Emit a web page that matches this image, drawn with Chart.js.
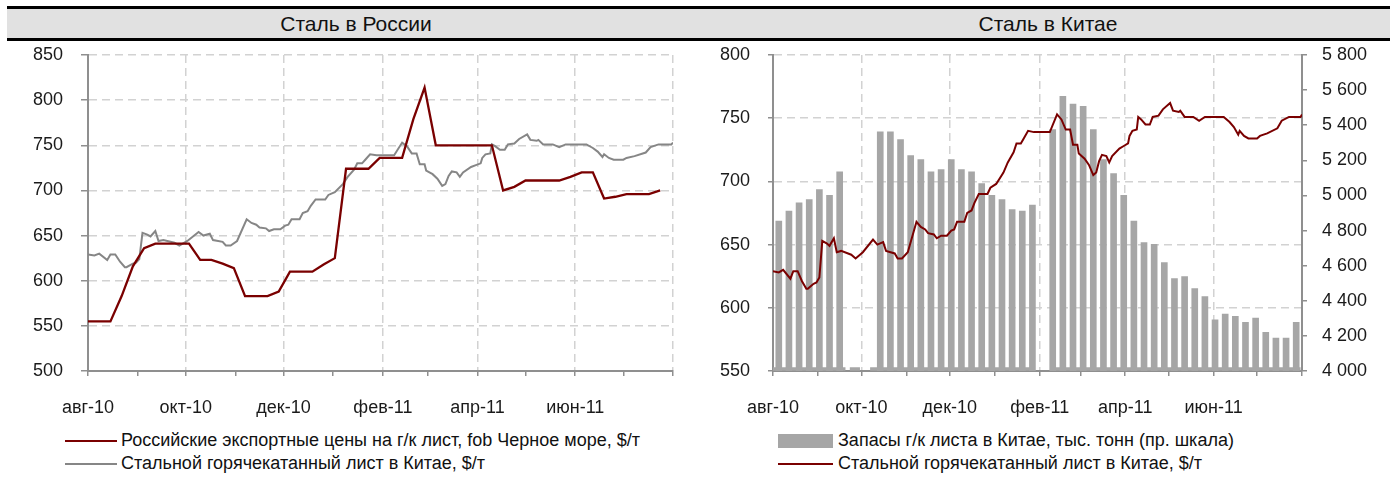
<!DOCTYPE html>
<html>
<head>
<meta charset="utf-8">
<script src="https://cdn.jsdelivr.net/npm/chart.js@4.4.1/dist/chart.umd.min.js"></script>
<style>
  html, body { margin: 0; padding: 0; background: #fff; }
  body { width: 1394px; height: 477px; overflow: hidden; position: relative;
         font-family: 'Liberation Sans', Arial, sans-serif; color: #111; }
  #band { position: absolute; left: 7px; top: 6px; width: 1383px; height: 29px;
          background: #e1e1e1; border-top: 3px solid #000; border-bottom: 3px solid #000; }
  .title { position: absolute; top: 0; height: 29px; line-height: 29px; font-size: 21px;
           transform: translateX(-50%); white-space: nowrap; }
  .wrap { position: absolute; top: 41px; width: 697px; height: 380px; }
  .legend { position: absolute; top: 429px; font-size: 18px; white-space: nowrap; }
  .row { display: flex; align-items: center; height: 23px; }
  .sample { display: inline-block; box-sizing: border-box; }
</style>
</head>
<body>
<div id="band">
  <div class="title" style="left:349px">Сталь в России</div>
  <div class="title" style="left:1041px">Сталь в Китае</div>
</div>
<div class="wrap" style="left:0px"><canvas id="left" width="697" height="380"></canvas></div>
<div class="wrap" style="left:697px"><canvas id="right" width="697" height="380"></canvas></div>
<script>
// ---------- DATA (x = days since 1 Aug 2010) ----------
const monthTickDays   = [0, 31, 61, 92, 122, 153, 184, 212, 243, 273, 304, 334, 365];
const monthTickLabels = ['авг-10', '', 'окт-10', '', 'дек-10', '', 'фев-11', '', 'апр-11', '', 'июн-11', '', ''];

const russiaLabel = 'Российские экспортные цены на г/к лист, fob Черное море, $/т';
const russiaDay = [0, 7, 14, 21, 28, 35, 42, 49, 56, 63, 70, 77, 84, 91, 98, 105, 112, 119, 126, 133,
  140, 147, 154, 161, 168, 175, 182, 189, 196, 203, 210, 217, 224, 231, 238, 245, 252, 259, 266, 273,
  280, 287, 294, 301, 308, 315, 322, 329, 336, 343, 350, 357];
const russiaPrice = [555, 555, 555, 583, 616, 636, 641, 641, 641, 641, 623, 623, 619, 614, 583, 583, 583, 588, 610, 610,
  610, 618, 625, 724, 724, 724, 736, 736, 736, 779, 814, 750, 750, 750, 750, 750, 750, 700, 704, 711,
  711, 711, 711, 715, 720, 720, 691, 693, 696, 696, 696, 700];

const chinaHrLabel = 'Стальной горячекатанный лист в Китае, $/т';
const chinaHrDay = [0, 4, 7, 12, 14, 17, 20, 23, 24, 28, 30, 32, 34, 37, 39, 42, 44, 47, 54, 57,
  62, 69, 72, 76, 78, 84, 86, 89, 93, 99, 102, 105, 107, 111, 113, 116, 120, 123, 125, 127,
  132, 134, 137, 139, 142, 145, 148, 150, 154, 159, 162, 166, 168, 171, 173, 176, 180, 191, 196, 199,
  202, 205, 207, 210, 211, 215, 218, 221, 223, 225, 227, 230, 232, 234, 239, 242, 245, 246, 248, 251,
  252, 254, 257, 260, 262, 266, 269, 274, 276, 280, 281, 284, 290, 294, 298, 311, 315, 318, 321, 322,
  325, 328, 334, 336, 341, 348, 351, 356, 364, 365];
const chinaHrPrice = [629, 628, 630, 623, 629, 629, 621, 615, 615, 619, 620, 624, 653, 651, 649, 655, 644, 645, 642, 639,
  644, 654, 650, 652, 645, 643, 639, 639, 644, 668, 664, 662, 659, 658, 655, 657, 657, 661, 662, 668,
  668, 675, 677, 683, 690, 690, 690, 695, 698, 707, 715, 723, 730, 730, 734, 740, 739, 739, 753, 749,
  741, 741, 729, 729, 722, 718, 713, 705, 707, 716, 721, 720, 715, 720, 726, 728, 730, 736, 740, 741,
  751, 749, 745, 745, 751, 752, 757, 762, 756, 755, 756, 751, 751, 748, 751, 751, 747, 743, 737, 740,
  736, 734, 734, 736, 738, 742, 748, 751, 751, 753];

const stockLabel = 'Запасы г/к листа в Китае, тыс. тонн (пр. шкала)';
const stockDay = [4, 11, 18, 25, 32, 39, 46, 53, 60, 67, 74, 81, 88, 95, 102, 109, 116, 123, 130, 137,
  144, 151, 158, 165, 172, 179, 186, 193, 200, 207, 214, 221, 228, 235, 242, 249, 256, 263, 270, 277,
  284, 291, 298, 305, 312, 319, 326, 333, 340, 347, 354, 361];
const stockValue = [4854, 4911, 4958, 4977, 5034, 5001, 5134, null, null, null, 5362, 5362, 5318, 5227, 5204, 5134, 5147, 5204, 5147, 5134,
  5068, 5001, 4977, 4920, 4911, 4945, null, 5375, 5564, 5521, 5507, 5375, 5204, 5125, 5001, 4854, 4731, 4721, 4617, 4526,
  4538, 4470, 4424, 4292, 4324, 4311, 4277, 4301, 4220, 4187, 4187, 4277];
// thin base strip of the stock series along the bottom of the right chart
const stockBaseDay   = [0, 50, 51, 53, 60, 61, 67, 179, 180, 193, 364];
const stockBaseValue = [4011, 4011, null, 4011, 4011, null, 4011, 4011, null, 4011, 4011];

const leftYTicks  = { min: 500, max: 850, step: 50 };
const rightYTicks = { min: 550, max: 800, step: 50 };
const rightY2Ticks = { min: 4000, max: 5800, step: 200 };

// ---------- STYLE ----------
const FONT = "'Liberation Sans', Arial, sans-serif";
const tickFont = { family: FONT, size: 18 };
const textColor = '#1a1a1a';
const axisColor = '#8f8f8f';
const gridColor = '#d2d2d2';
const gridDash = [8, 5];
const maroon = '#7a0000';

const pts = (xs, ys) => xs.map((x, i) => ({ x: x, y: ys[i] }));
const fmtSpace = v => String(v).replace(/\B(?=(\d{3})+(?!\d))/g, ' ');

function monthAxis() {
  return {
    type: 'linear', min: monthTickDays[0], max: monthTickDays[monthTickDays.length - 1], offset: false,
    afterBuildTicks: s => { s.ticks = monthTickDays.map(v => ({ value: v })); },
    afterFit: s => { s.height = 50; },
    ticks: { autoSkip: false, maxRotation: 0, minRotation: 0, padding: 21, font: tickFont, color: textColor,
             callback: (v, i) => monthTickLabels[i] || '' },
    grid: { offset: false, lineWidth: 1.5, tickLength: 5, tickWidth: 1.5, tickColor: axisColor,
            color: c => (c.index % 2 === 0 && c.index > 0) ? gridColor : 'rgba(0,0,0,0)' },
    border: { color: axisColor, width: 2, dash: gridDash }
  };
}
function valueAxis(t, width, tickLen, pad, position, drawGrid, fmt) {
  return {
    type: 'linear', position: position, min: t.min, max: t.max,
    afterFit: s => { s.width = width; s.paddingTop = 0; s.paddingBottom = 0; },
    ticks: { stepSize: t.step, padding: pad, font: tickFont, color: textColor, callback: fmt || (v => v) },
    grid: { drawOnChartArea: drawGrid, lineWidth: 1.5, tickLength: tickLen, tickWidth: 1.5, tickColor: axisColor,
            color: c => (c.tick && c.tick.value === t.min) ? 'rgba(0,0,0,0)' : gridColor },
    border: { color: axisColor, width: 2, dash: gridDash }
  };
}
const common = {
  responsive: false, animation: false, devicePixelRatio: 1,
  plugins: { legend: { display: false }, tooltip: { enabled: false } },
  elements: { point: { radius: 0 }, line: { tension: 0 } }
};

const leftChart = new Chart(document.getElementById('left'), {
  type: 'line',
  data: { datasets: [
    { label: russiaLabel, data: pts(russiaDay, russiaPrice), borderColor: maroon, borderWidth: 2.3, order: 1 },
    { label: chinaHrLabel, data: pts(chinaHrDay, chinaHrPrice), borderColor: '#868686', borderWidth: 2, order: 2 }
  ] },
  options: Object.assign({}, common, {
    layout: { padding: { left: 0, right: 24, top: 14, bottom: 0 } },
    scales: { x: monthAxis(), y: valueAxis(leftYTicks, 88, 7, 18, 'left', true) }
  })
});

const rightChart = new Chart(document.getElementById('right'), {
  type: 'line',
  data: { datasets: [
    { type: 'bar', label: stockLabel, data: pts(stockDay, stockValue), yAxisID: 'y2',
      backgroundColor: '#a6a6a6', barThickness: 6, order: 2 },
    { type: 'line', label: chinaHrLabel, data: pts(chinaHrDay, chinaHrPrice), yAxisID: 'y',
      borderColor: maroon, borderWidth: 2, order: 1 },
    { type: 'line', label: '', data: pts(stockBaseDay, stockBaseValue), yAxisID: 'y2',
      borderColor: '#a6a6a6', borderWidth: 3.5, spanGaps: false, order: 3 }
  ] },
  options: Object.assign({}, common, {
    layout: { padding: { left: 0, right: 0, top: 14, bottom: 0 } },
    scales: {
      x: monthAxis(),
      y: valueAxis(rightYTicks, 76, 5, 18, 'left', true),
      y2: valueAxis(rightY2Ticks, 92, 5, 15, 'right', false, fmtSpace)
    }
  })
});

// ---------- HTML legends built from the datasets ----------
function htmlLegend(chart, left, sampleW, gap) {
  const box = document.createElement('div');
  box.className = 'legend';
  box.style.left = left + 'px';
  chart.data.datasets.filter(d => d.label).forEach(d => {
    const row = document.createElement('div'); row.className = 'row';
    const s = document.createElement('span'); s.className = 'sample';
    s.style.width = sampleW + 'px'; s.style.marginRight = gap + 'px';
    if (d.type === 'bar') { s.style.height = '14px'; s.style.background = d.backgroundColor; }
    else { s.style.height = '2px'; s.style.background = d.borderColor; }
    const t = document.createElement('span'); t.textContent = d.label;
    row.append(s, t); box.append(row);
  });
  document.body.append(box);
}
htmlLegend(leftChart, 65, 52, 4);
htmlLegend(rightChart, 778, 55, 5);
</script>
</body>
</html>
